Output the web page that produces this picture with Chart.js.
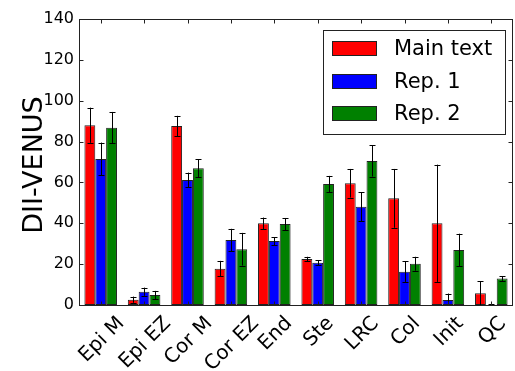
<!DOCTYPE html>
<html>
<head>
<meta charset="utf-8">
<script src="https://cdn.jsdelivr.net/npm/chart.js@4/dist/chart.umd.min.js"></script>
<style>
  html, body { margin: 0; padding: 0; background: #fff; }
  canvas { display: block; }
</style>
</head>
<body>
<canvas id="c" width="515" height="371"></canvas>
<script>
// Tissue categories along the x axis
const categories = ['Epi M', 'Epi EZ', 'Cor M', 'Cor EZ', 'End', 'Ste', 'LRC', 'Col', 'Init', 'QC'];

// DII-VENUS signal per category, with error bar half-lengths
const mainText    = [88.0, 2.6, 87.6, 17.8, 40.0, 22.5, 59.6, 52.2, 40.0, 5.7];
const mainTextErr = [8.6, 1.5, 5.0, 3.8, 2.8, 1.1, 7.0, 14.4, 28.7, 5.9];
const rep1        = [71.5, 6.5, 61.2, 31.8, 31.3, 20.7, 48.1, 16.3, 2.4, 0.0];
const rep1Err     = [8.0, 2.0, 3.6, 5.5, 1.9, 1.3, 7.2, 5.0, 3.2, 0.6];
const rep2        = [86.8, 4.9, 66.9, 27.3, 39.6, 59.2, 70.5, 20.2, 26.9, 13.0];
const rep2Err     = [7.7, 2.0, 4.4, 8.0, 3.0, 4.0, 7.6, 3.4, 8.0, 1.2];

const yTicks = [0, 20, 40, 60, 80, 100, 120, 140];
const yLabel = 'DII-VENUS';

const FONT = 'DejaVu Sans, Bitstream Vera Sans, sans-serif';

// Error bars with caps on top of every bar
const errorBars = {
  id: 'errorBars',
  afterDatasetsDraw(chart) {
    const ctx = chart.ctx;
    const y = chart.scales.y;
    const area = chart.chartArea;
    ctx.save();
    ctx.beginPath();
    ctx.rect(area.left, area.top, area.right - area.left, area.bottom - area.top);
    ctx.clip();
    ctx.strokeStyle = '#000';
    ctx.lineWidth = 1;
    chart.data.datasets.forEach((ds, di) => {
      const meta = chart.getDatasetMeta(di);
      meta.data.forEach((bar, i) => {
        const v = ds.data[i], e = ds.errors[i];
        const x = Math.round(bar.x) + 0.5;
        const yt = y.getPixelForValue(v + e);
        const yb = y.getPixelForValue(v - e);
        ctx.beginPath();
        ctx.moveTo(x, yt); ctx.lineTo(x, yb);
        ctx.moveTo(x - 3, Math.round(yt) + 0.5); ctx.lineTo(x + 3, Math.round(yt) + 0.5);
        ctx.moveTo(x - 3, Math.round(yb) + 0.5); ctx.lineTo(x + 3, Math.round(yb) + 0.5);
        ctx.stroke();
      });
    });
    ctx.restore();
  }
};

// Axes frame, inward ticks, rotated category labels, y title and legend
const decorations = {
  id: 'decorations',
  afterDraw(chart) {
    const ctx = chart.ctx;
    const a = chart.chartArea;
    const xs = chart.scales.x, ys = chart.scales.y;
    const L = Math.round(a.left) + 0.5, R = Math.round(a.right) - 0.5;
    const T = Math.round(a.top) + 0.5, B = Math.round(a.bottom) + 0.5;
    ctx.save();
    ctx.strokeStyle = '#222';
    ctx.lineWidth = 1;
    ctx.strokeRect(L, T, R - L, B - T);
    ctx.beginPath();
    yTicks.forEach(t => {
      const py = Math.round(ys.getPixelForValue(t)) + 0.5;
      ctx.moveTo(L, py); ctx.lineTo(L + 4, py);
      ctx.moveTo(R, py); ctx.lineTo(R - 4, py);
    });
    categories.forEach((c, i) => {
      const px = Math.round(xs.getPixelForTick(i)) + 0.5;
      ctx.moveTo(px, T); ctx.lineTo(px, T + 4);
      ctx.moveTo(px, B); ctx.lineTo(px, B - 4);
    });
    ctx.stroke();

    // category labels, rotated 45 degrees, centred under each group
    const fs = 20;
    ctx.fillStyle = '#000';
    ctx.font = fs + 'px ' + FONT;
    ctx.textAlign = 'center';
    ctx.textBaseline = 'alphabetic';
    const top0 = 311;
    categories.forEach((c, i) => {
      const w = ctx.measureText(c).width;
      const h = fs * 1.164;
      const half = (w + h) * Math.SQRT1_2 / 2;
      const cx = xs.getPixelForTick(i);
      const cy = top0 + half;
      ctx.save();
      ctx.translate(cx, cy);
      ctx.rotate(-Math.PI / 4);
      ctx.fillText(c, 0, fs * 0.346);
      ctx.restore();
    });

    // y axis title
    ctx.save();
    ctx.font = '27px ' + FONT;
    ctx.translate(42, (a.top + a.bottom) / 2 + 3);
    ctx.rotate(-Math.PI / 2);
    ctx.textAlign = 'center';
    ctx.textBaseline = 'alphabetic';
    ctx.fillText(yLabel, 0, 0);
    ctx.restore();

    // legend
    const lx = 323.5, ly = 30.5, lw = 182, lh = 104;
    ctx.fillStyle = '#fff';
    ctx.fillRect(lx, ly, lw, lh);
    ctx.strokeStyle = '#222';
    ctx.strokeRect(lx, ly, lw, lh);
    ctx.font = '21px ' + FONT;
    ctx.textAlign = 'left';
    ctx.textBaseline = 'middle';
    chart.data.datasets.forEach((ds, i) => {
      const cy = 48.5 + i * 32.7;
      ctx.fillStyle = ds.backgroundColor;
      ctx.fillRect(332, Math.round(cy - 7.5), 45, 15);
      ctx.strokeStyle = '#222';
      ctx.strokeRect(332.5, Math.round(cy - 7.5) + 0.5, 44, 14);
      ctx.fillStyle = '#000';
      ctx.fillText(ds.label, 394, cy + 1);
    });
    ctx.restore();
  }
};

new Chart(document.getElementById('c'), {
  type: 'bar',
  data: {
    labels: categories,
    datasets: [
      { label: 'Main text', data: mainText, errors: mainTextErr, backgroundColor: '#ff0000' },
      { label: 'Rep. 1',    data: rep1,     errors: rep1Err,     backgroundColor: '#0000ff' },
      { label: 'Rep. 2',    data: rep2,     errors: rep2Err,     backgroundColor: '#008000' }
    ]
  },
  options: {
    responsive: false,
    animation: false,
    devicePixelRatio: 1,
    layout: { padding: { left: 0, right: 2, top: 19, bottom: 0 } },
    datasets: {
      bar: { categoryPercentage: 0.75, barPercentage: 1, borderColor: '#222', borderWidth: 1, borderSkipped: false }
    },
    plugins: { legend: { display: false }, tooltip: { enabled: false } },
    scales: {
      x: {
        grid: { display: false, drawTicks: false },
        border: { display: false },
        ticks: { display: false },
        afterFit(s) { s.height = 66; }
      },
      y: {
        min: 0, max: 140,
        grid: { display: false, drawTicks: false },
        border: { display: false },
        ticks: { stepSize: 20, color: '#000', padding: 5, font: { family: FONT, size: 16 } },
        afterFit(s) { s.width = 79; }
      }
    }
  },
  plugins: [errorBars, decorations]
});
</script>
</body>
</html>
